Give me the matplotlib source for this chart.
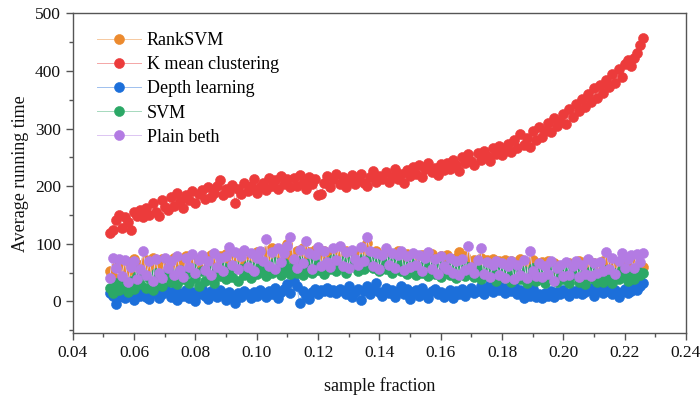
import numpy as np
import matplotlib
matplotlib.use("Agg")
import matplotlib.pyplot as plt
from matplotlib.ticker import MultipleLocator, FormatStrFormatter

plt.rcParams['font.family'] = ['Liberation Serif', 'DejaVu Serif']

# sample fractions: 0.052 .. 0.226, step 0.001
x_start, x_stop, x_step = 0.052, 0.226, 0.001
x = np.round(np.arange(x_start, x_stop + x_step / 2, x_step), 3)

rank_svm = [
    52, 42, 60, 72, 56, 48, 68, 54, 74, 50,
    64, 52, 72, 58, 76, 62, 54, 74, 60, 68,
    56, 76, 62, 70, 54, 78, 64, 58, 74, 66,
    62, 76, 64, 80, 66, 58, 78, 68, 82, 70,
    64, 80, 68, 84, 70, 62, 82, 72, 86, 74,
    66, 88, 74, 92, 76, 70, 90, 78, 100, 80,
    72, 88, 76, 92, 70, 86, 74, 90, 68, 80,
    88, 72, 84, 70, 90, 76, 68, 88, 72, 82,
    70, 86, 76, 90, 102, 78, 70, 88, 74, 66,
    84, 70, 80, 66, 88, 74, 68, 82, 70, 64,
    78, 66, 80, 68, 62, 82, 72, 64, 78, 66,
    80, 68, 62, 76, 86, 64, 78, 66, 60, 72,
    64, 76, 58, 72, 62, 74, 56, 70, 60, 72,
    58, 70, 54, 68, 74, 56, 64, 52, 72, 60,
    54, 68, 58, 70, 52, 66, 56, 62, 50, 60,
    66, 52, 62, 70, 56, 68, 58, 50, 66, 56,
    62, 70, 54, 66, 72, 58, 68, 52, 62, 66,
    56, 66, 60, 54, 60,
]

k_mean = [
    118, 124, 142, 150, 128, 146, 138, 124, 156, 148,
    158, 146, 162, 150, 170, 156, 148, 176, 164, 158,
    182, 166, 188, 174, 162, 184, 176, 192, 170, 186,
    194, 178, 198, 182, 188, 200, 210, 184, 196, 190,
    202, 170, 196, 186, 206, 192, 200, 212, 188, 198,
    206, 194, 214, 200, 210, 196, 218, 204, 212, 198,
    214, 200, 220, 206, 196, 216, 204, 212, 184, 186,
    206, 218, 198, 212, 222, 204, 216, 198, 210, 220,
    204, 214, 222, 206, 200, 216, 226, 208, 218, 212,
    224, 208, 216, 230, 212, 222, 206, 228, 218, 234,
    222, 236, 216, 230, 240, 224, 232, 220, 238, 228,
    240, 230, 246, 236, 226, 250, 240, 256, 244, 236,
    258, 246, 262, 252, 244, 266, 256, 270, 254, 262,
    274, 260, 280, 266, 290, 272, 284, 268, 296, 280,
    302, 286, 296, 310, 294, 318, 304, 312, 326, 308,
    334, 320, 342, 330, 352, 338, 360, 346, 370, 354,
    376, 362, 384, 372, 394, 380, 404, 390, 412, 420,
    408, 422, 432, 446, 458,
]

depth_learning = [
    14, 10, -4, 8, 18, 6, 12, 20, 2, 16,
    10, 22, 8, 4, 14, 18, 6, 12, 24, 16,
    8, 18, 2, 14, 10, 20, 6, 16, 0, 12,
    22, 10, 4, 18, 12, 8, 20, 14, 2, 16,
    10, -2, 14, 8, 18, 12, 6, 16, 10, 20,
    14, 8, 18, 12, 24, 6, 16, 22, 30, 14,
    36, 26, -2, 18, 10, 4, 16, 22, 12, 20,
    18, 24, 16, 20, 14, 22, 18, 12, 26, 8,
    16, 22, 2, 18, 26, 12, 20, 32, 16, 10,
    24, 14, 20, 8, 18, 26, 12, 22, 4, 16,
    20, 10, 24, 14, 6, 18, 22, 12, 16, 8,
    14, 20, 6, 18, 12, 22, 10, 16, 24, 14,
    18, 26, 12, 22, 30, 16, 24, 20, 28, 14,
    22, 18, 26, 12, 20, 6, 16, 10, 22, 8,
    12, 6, 14, 10, 18, 8, 16, 12, 20, 14,
    10, 18, 14, 22, 12, 16, 20, 24, 10, 18,
    22, 14, 18, 26, 12, 20, 8, 16, 22, 14,
    18, 24, 20, 26, 32,
]

svm = [
    24, 14, 32, 20, 40, 26, 16, 36, 22, 44,
    30, 48, 24, 40, 20, 50, 34, 26, 46, 52,
    34, 48, 30, 54, 38, 50, 32, 58, 40, 26,
    52, 36, 58, 42, 32, 54, 44, 60, 38, 56,
    42, 62, 36, 56, 46, 64, 40, 60, 48, 66,
    52, 44, 64, 50, 68, 54, 46, 66, 58, 48,
    62, 50, 70, 46, 58, 66, 50, 72, 54, 62,
    48, 68, 56, 74, 52, 64, 70, 50, 60, 72,
    64, 52, 74, 56, 66, 76, 58, 70, 52, 66,
    56, 70, 50, 64, 74, 52, 62, 48, 68, 56,
    46, 62, 50, 68, 44, 60, 48, 66, 42, 58,
    62, 46, 58, 40, 56, 66, 44, 60, 50, 42,
    56, 38, 52, 64, 42, 54, 36, 60, 46, 40,
    54, 34, 48, 60, 38, 52, 32, 46, 58, 36,
    44, 54, 32, 50, 40, 58, 34, 48, 38, 56,
    32, 46, 54, 34, 48, 30, 42, 52, 38, 34,
    46, 34, 54, 40, 32, 50, 38, 56, 44, 36,
    48, 38, 54, 46, 50,
]

plain_beth = [
    40, 76, 58, 74, 44, 72, 34, 60, 70, 38,
    56, 88, 46, 70, 36, 74, 50, 40, 76, 58,
    70, 46, 78, 54, 42, 76, 60, 82, 50, 72,
    80, 54, 70, 46, 84, 60, 76, 52, 78, 94,
    64, 86, 56, 78, 90, 60, 84, 52, 76, 88,
    70, 108, 62, 86, 56, 92, 68, 84, 96, 112,
    74, 58, 90, 66, 104, 84, 56, 80, 94, 62,
    88, 68, 60, 92, 72, 96, 62, 86, 58, 90,
    74, 64, 94, 70, 112, 88, 62, 84, 56, 80,
    92, 64, 84, 58, 80, 88, 54, 78, 60, 84,
    64, 80, 52, 76, 86, 56, 74, 48, 78, 62,
    56, 76, 50, 70, 46, 74, 54, 96, 60, 50,
    72, 92, 48, 68, 42, 64, 70, 46, 66, 40,
    62, 70, 38, 64, 46, 72, 40, 88, 52, 44,
    66, 42, 62, 48, 70, 36, 58, 64, 44, 68,
    46, 62, 70, 42, 64, 48, 74, 44, 66, 50,
    68, 52, 86, 56, 76, 48, 70, 84, 58, 74,
    80, 58, 82, 68, 84,
]

series_names = ["RankSVM", "K mean clustering", "Depth learning", "SVM", "Plain beth"]
series_values = [rank_svm, k_mean, depth_learning, svm, plain_beth]
colors = ["#EC8A2E", "#EC3B3B", "#1C6FDA", "#2BA866", "#B37BE3"]
line_colors = ["#F6C9A0", "#F4A6A6", "#9FC0EE", "#A6D9BD", "#DCC5F2"]

x_ticks = [0.04, 0.06, 0.08, 0.10, 0.12, 0.14, 0.16, 0.18, 0.20, 0.22, 0.24]
y_ticks = [0, 100, 200, 300, 400, 500]

fig = plt.figure(figsize=(7.0, 3.96), dpi=100)
ax = fig.add_axes([0.104, 0.159, 0.876, 0.807])

for name, vals, c, lc in zip(series_names, series_values, colors, line_colors):
    ax.plot(x, vals, '-', color=lc, lw=0.7, marker='o', ms=7.2,
            mfc=c, mec=c, mew=0.4, label=name)

ax.set_xlim(0.04, 0.24)
ax.set_ylim(-55, 500)
ax.set_xticks(x_ticks)
ax.set_yticks(y_ticks)
ax.xaxis.set_major_formatter(FormatStrFormatter('%.2f'))
ax.xaxis.set_minor_locator(MultipleLocator(0.01))
ax.yaxis.set_minor_locator(MultipleLocator(50))

spine_color = "#555555"
for s in ax.spines.values():
    s.set_color(spine_color)
    s.set_linewidth(1.0)
ax.tick_params(which='both', direction='out', colors=spine_color,
               labelcolor='#111111', top=False, right=False)
ax.tick_params(which='major', length=5, width=1.0, labelsize=12.5)
ax.tick_params(which='minor', length=3, width=1.0)

ax.set_xlabel("sample fraction", fontsize=13, color='#111111', labelpad=12)
ax.set_ylabel("Average running time", fontsize=13, color='#111111', labelpad=4)

leg = ax.legend(loc='upper left', bbox_to_anchor=(0.028, 0.965), frameon=False,
                fontsize=13, handlelength=2.4, handletextpad=0.35,
                labelspacing=0.4, borderaxespad=0.0)

fig.savefig("out.png", dpi=100)
